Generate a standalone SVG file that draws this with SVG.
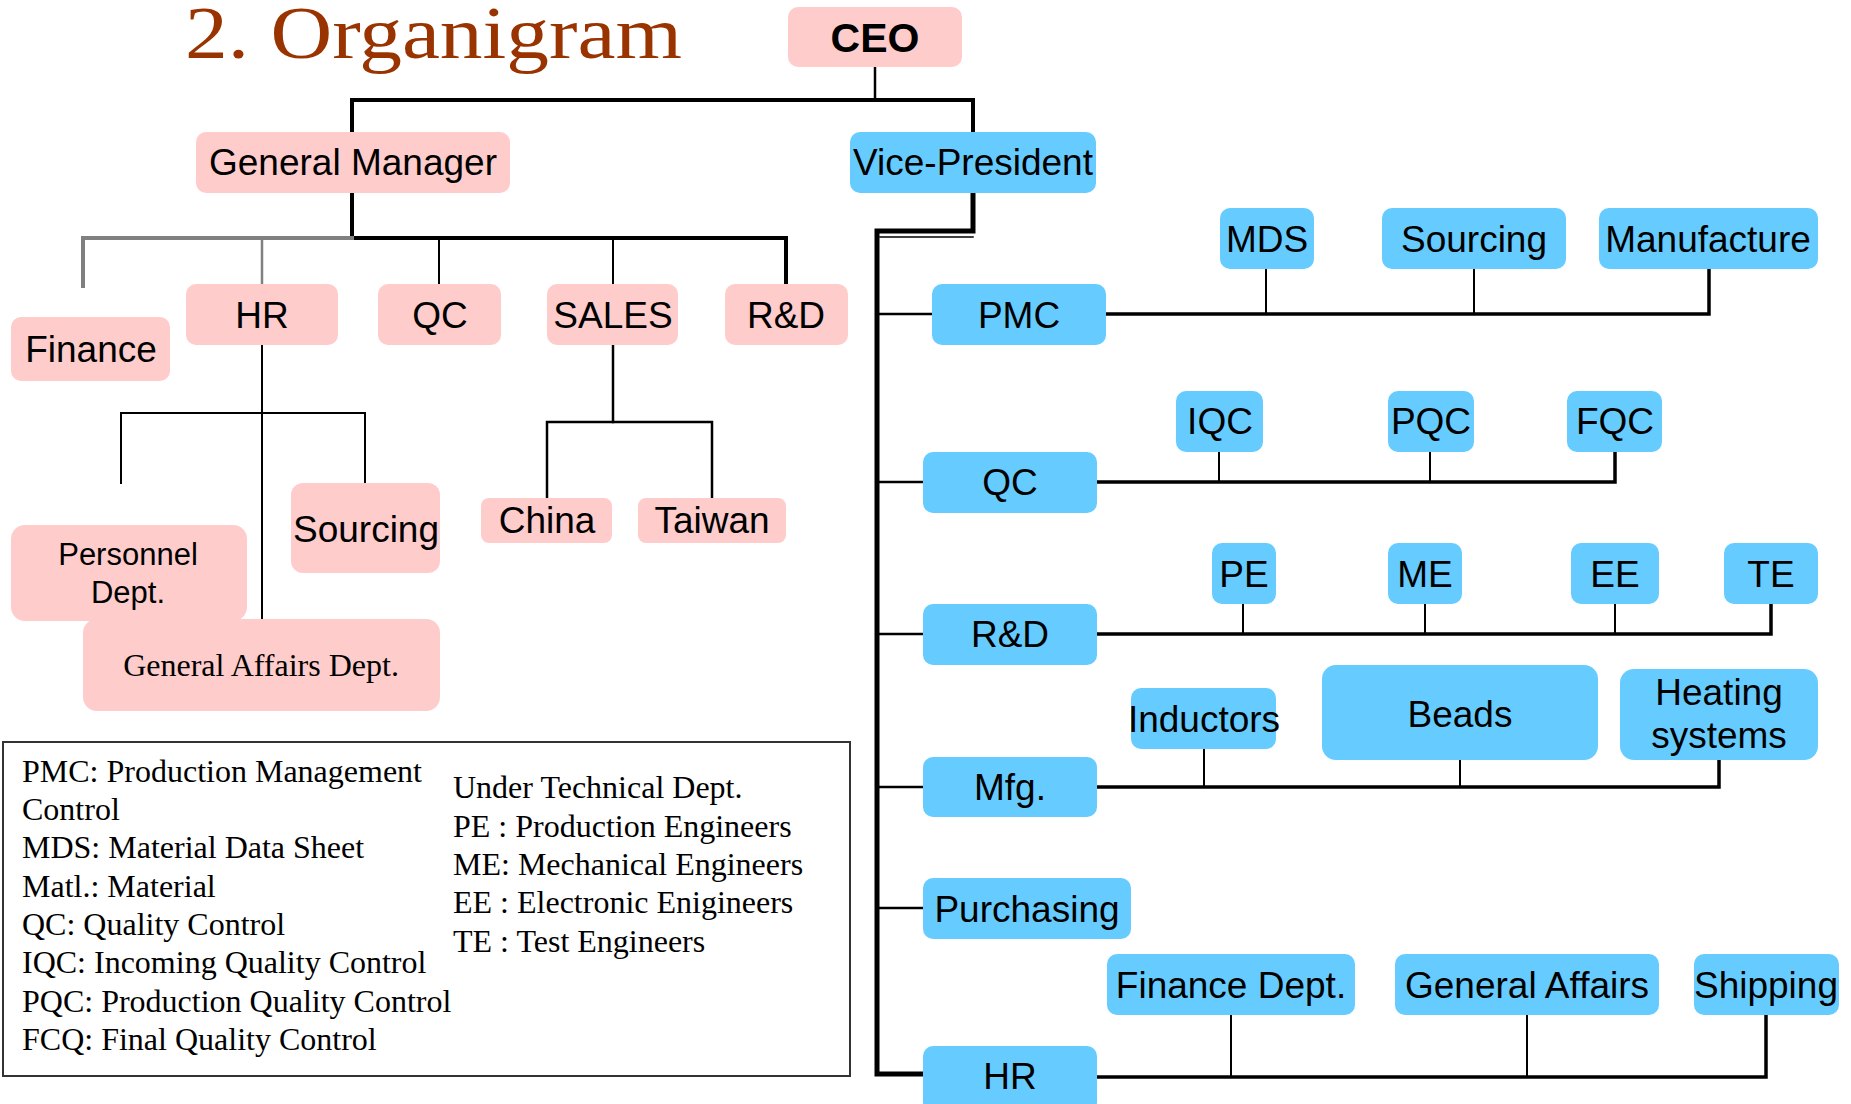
<svg xmlns="http://www.w3.org/2000/svg" width="1851" height="1104" viewBox="0 0 1851 1104">
<style>
.pk{fill:#FFCCCC}
.bl{fill:#66CCFF}
.t{font-family:"Liberation Sans",Arial,sans-serif;font-size:37px;fill:#000;text-anchor:middle}
.s{font-family:"Liberation Serif","Times New Roman",serif;fill:#000}
.c{fill:none;stroke:#000;stroke-linecap:square}
.w4{stroke-width:4}
.w2{stroke-width:2}
.w3{stroke-width:2.5}
.g{stroke:#808080}
</style>
<rect width="1851" height="1104" fill="#fff"/>
<text id="title" x="185" y="58" class="s" font-size="74" style="fill:#993300" textLength="497" lengthAdjust="spacingAndGlyphs">2. Organigram</text>

<g id="connectors">
<path class="c w3" d="M875,67 V100"/>
<path class="c w4" d="M352,132 V100 H973 V132"/>
<path class="c w4" d="M352,193 V238 H786 V284"/>
<path class="c w4 g" d="M352,238 H83 V286"/>
<path class="c w3 g" d="M262,238 V284"/>
<path class="c w2" d="M439,238 V284"/>
<path class="c w2" d="M613,238 V284"/>
<path class="c w2" d="M262,345 V619"/>
<path class="c w2" d="M121,483 V413 H365 V483"/>
<path class="c w3" d="M613,345 V422"/>
<path class="c w3" d="M547,498 V422 H712 V498"/>

<path class="c" stroke-width="5" stroke-linecap="butt" d="M973,193 V231 H877 V1074 H923"/>
<path class="c" stroke-width="1.5" stroke-linecap="butt" d="M880,237 H973"/>
<path class="c w3" d="M877,314 H932"/>
<path class="c" stroke-width="3.5" d="M1106,314 H1709 V269"/>
<path class="c w2" d="M1266,269 V314 M1474,269 V314"/>
<path class="c w3" d="M877,482 H923"/>
<path class="c" stroke-width="3.5" d="M1097,482 H1615 V452"/>
<path class="c w2" d="M1219,452 V482 M1430,452 V482"/>
<path class="c w3" d="M877,634 H923"/>
<path class="c" stroke-width="3.5" d="M1097,634 H1771 V604"/>
<path class="c w2" d="M1243,604 V634 M1425,604 V634 M1615,604 V634"/>
<path class="c w3" d="M877,787 H923"/>
<path class="c" stroke-width="3.5" d="M1097,787 H1719 V760"/>
<path class="c w2" d="M1204,749 V787 M1460,760 V787"/>
<path class="c w3" d="M877,908 H923"/>
<path class="c" stroke-width="3.5" d="M1097,1077 H1766 V1015"/>
<path class="c w2" d="M1231,1015 V1077 M1527,1015 V1077"/>
</g>

<g id="n-ceo"><rect class="pk" x="788" y="7" width="174" height="60" rx="10"/><text class="t" x="875" y="52" font-weight="bold" style="font-size:41px">CEO</text></g>
<g id="n-gm"><rect class="pk" x="196" y="132" width="314" height="61" rx="10"/><text class="t" x="353" y="175">General Manager</text></g>
<g id="n-finance"><rect class="pk" x="11" y="317" width="159" height="64" rx="10"/><text class="t" x="91" y="362">Finance</text></g>
<g id="n-hr"><rect class="pk" x="186" y="284" width="152" height="61" rx="10"/><text class="t" x="262" y="328">HR</text></g>
<g id="n-qc"><rect class="pk" x="378" y="284" width="123" height="61" rx="10"/><text class="t" x="440" y="328">QC</text></g>
<g id="n-sales"><rect class="pk" x="547" y="284" width="131" height="61" rx="10"/><text class="t" x="613" y="328">SALES</text></g>
<g id="n-rd"><rect class="pk" x="725" y="284" width="123" height="61" rx="10"/><text class="t" x="786" y="328">R&amp;D</text></g>
<g id="n-sourcing-l"><rect class="pk" x="291" y="483" width="149" height="90" rx="12"/><text class="t" x="366" y="542">Sourcing</text></g>
<g id="n-personnel"><rect class="pk" x="11" y="525" width="236" height="96" rx="14"/><text class="t" x="128" y="565" style="font-size:31px">Personnel</text><text class="t" x="128" y="603" style="font-size:31px">Dept.</text></g>
<g id="n-ga"><rect class="pk" x="83" y="619" width="357" height="92" rx="14"/><text class="s" x="261" y="676" font-size="32" text-anchor="middle">General Affairs Dept.</text></g>
<g id="n-china"><rect class="pk" x="481" y="498" width="131" height="45" rx="8"/><text class="t" x="547" y="533">China</text></g>
<g id="n-taiwan"><rect class="pk" x="638" y="498" width="148" height="45" rx="8"/><text class="t" x="712" y="533">Taiwan</text></g>

<g id="n-vp"><rect class="bl" x="850" y="132" width="246" height="61" rx="10"/><text class="t" x="973" y="175">Vice-President</text></g>
<g id="n-pmc"><rect class="bl" x="932" y="284" width="174" height="61" rx="10"/><text class="t" x="1019" y="328">PMC</text></g>
<g id="n-mds"><rect class="bl" x="1220" y="208" width="94" height="61" rx="10"/><text class="t" x="1267" y="252">MDS</text></g>
<g id="n-sourcing-r"><rect class="bl" x="1382" y="208" width="184" height="61" rx="10"/><text class="t" x="1474" y="252">Sourcing</text></g>
<g id="n-manufacture"><rect class="bl" x="1599" y="208" width="219" height="61" rx="10"/><text class="t" x="1708" y="252">Manufacture</text></g>
<g id="n-qc-r"><rect class="bl" x="923" y="452" width="174" height="61" rx="10"/><text class="t" x="1010" y="495">QC</text></g>
<g id="n-iqc"><rect class="bl" x="1176" y="391" width="87" height="61" rx="10"/><text class="t" x="1220" y="434">IQC</text></g>
<g id="n-pqc"><rect class="bl" x="1388" y="391" width="86" height="61" rx="10"/><text class="t" x="1431" y="434">PQC</text></g>
<g id="n-fqc"><rect class="bl" x="1567" y="391" width="95" height="61" rx="10"/><text class="t" x="1615" y="434">FQC</text></g>
<g id="n-rd-r"><rect class="bl" x="923" y="604" width="174" height="61" rx="10"/><text class="t" x="1010" y="647">R&amp;D</text></g>
<g id="n-pe"><rect class="bl" x="1212" y="543" width="64" height="61" rx="10"/><text class="t" x="1244" y="587">PE</text></g>
<g id="n-me"><rect class="bl" x="1388" y="543" width="74" height="61" rx="10"/><text class="t" x="1425" y="587">ME</text></g>
<g id="n-ee"><rect class="bl" x="1571" y="543" width="88" height="61" rx="10"/><text class="t" x="1615" y="587">EE</text></g>
<g id="n-te"><rect class="bl" x="1724" y="543" width="94" height="61" rx="10"/><text class="t" x="1771" y="587">TE</text></g>
<g id="n-mfg"><rect class="bl" x="923" y="757" width="174" height="60" rx="10"/><text class="t" x="1010" y="800">Mfg.</text></g>
<g id="n-inductors"><rect class="bl" x="1131" y="688" width="145" height="61" rx="10"/><text class="t" x="1204" y="732">Inductors</text></g>
<g id="n-beads"><rect class="bl" x="1322" y="665" width="276" height="95" rx="14"/><text class="t" x="1460" y="727">Beads</text></g>
<g id="n-heating"><rect class="bl" x="1620" y="669" width="198" height="91" rx="14"/><text class="t" x="1719" y="705">Heating</text><text class="t" x="1719" y="748">systems</text></g>
<g id="n-purchasing"><rect class="bl" x="923" y="878" width="208" height="61" rx="10"/><text class="t" x="1027" y="922">Purchasing</text></g>
<g id="n-financedept"><rect class="bl" x="1107" y="954" width="248" height="61" rx="10"/><text class="t" x="1231" y="998">Finance Dept.</text></g>
<g id="n-generalaffairs"><rect class="bl" x="1395" y="954" width="264" height="61" rx="10"/><text class="t" x="1527" y="998">General Affairs</text></g>
<g id="n-shipping"><rect class="bl" x="1694" y="954" width="145" height="61" rx="10"/><text class="t" x="1766" y="998">Shipping</text></g>
<g id="n-hr-r"><rect class="bl" x="923" y="1046" width="174" height="66" rx="10"/><text class="t" x="1010" y="1089">HR</text></g>

<g id="legend">
<rect x="3" y="742" width="847" height="334" fill="none" stroke="#333" stroke-width="2"/>
<g class="s" font-size="32">
<text x="22" y="782">PMC: Production Management</text>
<text x="22" y="820">Control</text>
<text x="22" y="858">MDS: Material Data Sheet</text>
<text x="22" y="897">Matl.: Material</text>
<text x="22" y="935">QC: Quality Control</text>
<text x="22" y="973">IQC: Incoming Quality Control</text>
<text x="22" y="1012">PQC: Production Quality Control</text>
<text x="22" y="1050">FCQ: Final Quality Control</text>
<text x="453" y="798">Under Technical Dept.</text>
<text x="453" y="837">PE : Production Engineers</text>
<text x="453" y="875">ME: Mechanical Engineers</text>
<text x="453" y="913">EE : Electronic Enigineers</text>
<text x="453" y="952">TE : Test Engineers</text>
</g>
</g>
</svg>
